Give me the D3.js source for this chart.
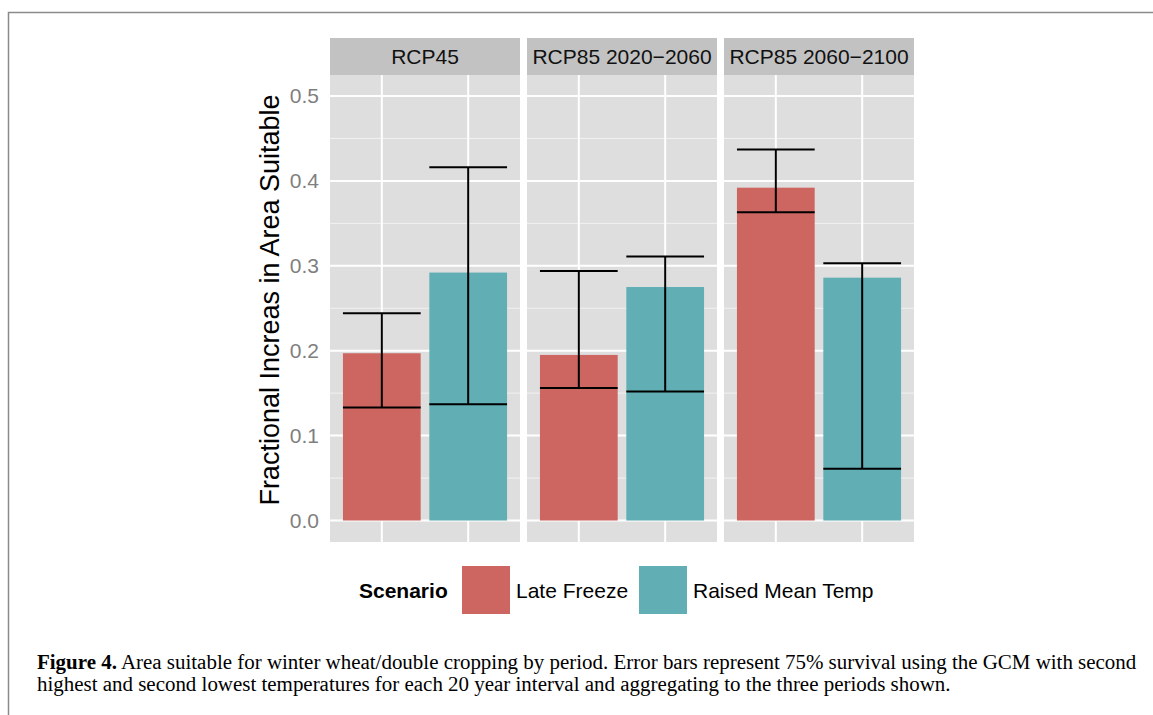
<!DOCTYPE html>
<html>
<head>
<meta charset="utf-8">
<script src="https://cdnjs.cloudflare.com/ajax/libs/d3/7.8.5/d3.min.js"></script>
<style>
  body { margin: 0; background: #fff; }
  svg text { font-family: "Liberation Sans", Arial, sans-serif; }
</style>
</head>
<body>
<svg id="chart" width="1153" height="715"></svg>
<script>
const PANELS    = ["RCP45", "RCP85 2020\u22122060", "RCP85 2060\u22122100"];
const SCENARIOS = ["Late Freeze", "Raised Mean Temp"];
const COLORS    = ["#CD6660", "#61AEB5"];

// per panel, per scenario
const VALUES = [[0.197, 0.292], [0.195, 0.275], [0.392, 0.286]];
const LOWER  = [[0.133, 0.137], [0.156, 0.152], [0.363, 0.061]];
const UPPER  = [[0.244, 0.416], [0.294, 0.311], [0.437, 0.303]];

const Y_TICKS = [0, 0.1, 0.2, 0.3, 0.4, 0.5];
const Y_MINOR = [0.05, 0.15, 0.25, 0.35, 0.45];

const svg = d3.select("#chart");

// figure frame
svg.append("path")
  .attr("d", "M8.5,715 V12.5 H1153")
  .attr("fill", "none").attr("stroke", "#8a8a8a").attr("stroke-width", 1.5);

const plotTop = 75, plotBot = 542, stripTop = 38;

const fx = d3.scaleBand().domain(PANELS).range([330, 914]).paddingInner(7 / 197);
const x  = d3.scalePoint().domain(SCENARIOS).range([0, fx.bandwidth()]).padding(0.6);
const y  = d3.scaleLinear().domain([-0.0253, 0.5247]).range([plotBot, plotTop]);
const color = d3.scaleOrdinal().domain(SCENARIOS).range(COLORS);
const barW = x.step() * 0.9;

const data = [];
PANELS.forEach((p, i) => SCENARIOS.forEach((s, j) => data.push({
  panel: p, scen: s, v: VALUES[i][j], lo: LOWER[i][j], hi: UPPER[i][j]
})));

PANELS.forEach(p => {
  const g = svg.append("g").attr("transform", `translate(${fx(p)},0)`);
  const w = fx.bandwidth();

  // strip
  g.append("rect").attr("x", 0).attr("y", stripTop).attr("width", w)
    .attr("height", plotTop - stripTop).attr("fill", "#C2C2C2");
  g.append("text").attr("x", w / 2).attr("y", (stripTop + plotTop) / 2 + 7.5)
    .attr("text-anchor", "middle").attr("font-size", 21).attr("fill", "#111")
    .text(p);

  // panel background
  g.append("rect").attr("x", 0).attr("y", plotTop).attr("width", w)
    .attr("height", plotBot - plotTop).attr("fill", "#DEDEDE");

  g.selectAll("line.minor").data(Y_MINOR).enter().append("line")
    .attr("x1", 0).attr("x2", w).attr("y1", d => y(d)).attr("y2", d => y(d))
    .attr("stroke", "#F2F2F2").attr("stroke-width", 1);
  g.selectAll("line.major").data(Y_TICKS).enter().append("line")
    .attr("x1", 0).attr("x2", w).attr("y1", d => y(d)).attr("y2", d => y(d))
    .attr("stroke", "#fff").attr("stroke-width", 2);
  g.selectAll("line.vx").data(SCENARIOS).enter().append("line")
    .attr("x1", d => x(d)).attr("x2", d => x(d)).attr("y1", plotTop).attr("y2", plotBot)
    .attr("stroke", "#fff").attr("stroke-width", 2);

  const pd = data.filter(d => d.panel === p);
  g.selectAll("rect.bar").data(pd).enter().append("rect")
    .attr("x", d => x(d.scen) - barW / 2).attr("width", barW)
    .attr("y", d => y(d.v)).attr("height", d => y(0) - y(d.v))
    .attr("fill", d => color(d.scen));

  // error bars
  const eb = g.selectAll("g.eb").data(pd).enter().append("g")
    .attr("stroke", "#000").attr("stroke-width", 2);
  eb.append("line").attr("x1", d => x(d.scen)).attr("x2", d => x(d.scen))
    .attr("y1", d => y(d.lo)).attr("y2", d => y(d.hi));
  eb.append("line").attr("x1", d => x(d.scen) - barW / 2).attr("x2", d => x(d.scen) + barW / 2)
    .attr("y1", d => y(d.lo)).attr("y2", d => y(d.lo));
  eb.append("line").attr("x1", d => x(d.scen) - barW / 2).attr("x2", d => x(d.scen) + barW / 2)
    .attr("y1", d => y(d.hi)).attr("y2", d => y(d.hi));
});

// y axis
const yAxis = svg.append("g").attr("transform", "translate(330,0)")
  .call(d3.axisLeft(y).tickValues(Y_TICKS).tickFormat(d3.format(".1f")).tickSize(0).tickPadding(11));
yAxis.select(".domain").remove();
yAxis.selectAll("text").attr("font-size", 21).attr("fill", "#7F7F7F")
  .attr("font-family", "Liberation Sans, Arial, sans-serif");

svg.append("text")
  .attr("transform", "translate(279,300) rotate(-90)")
  .attr("text-anchor", "middle").attr("font-size", 27).attr("fill", "#000")
  .text("Fractional Increas in Area Suitable");

// legend
const leg = svg.append("g");
leg.append("text").attr("x", 359).attr("y", 598).attr("font-size", 21)
  .attr("font-weight", "bold").text("Scenario");
const keyX = [462, 639];
SCENARIOS.forEach((s, i) => {
  leg.append("rect").attr("x", keyX[i]).attr("y", 566).attr("width", 48).attr("height", 48)
    .attr("fill", color(s));
  leg.append("text").attr("x", keyX[i] + 54).attr("y", 598).attr("font-size", 21).text(s);
});

// caption: condensed serif, scaled so the first line spans the text block
const cap = svg.append("g");
const l1 = cap.append("text").attr("x", 0).attr("y", 669).attr("font-size", 20)
  .style("font-family", "Liberation Serif, serif");
l1.append("tspan").attr("font-weight", "bold").text("Figure 4.");
l1.append("tspan").text(" Area suitable for winter wheat/double cropping by period. Error bars represent 75% survival using the GCM with second");
cap.append("text").attr("x", 0).attr("y", 691).attr("font-size", 20)
  .style("font-family", "Liberation Serif, serif")
  .text("highest and second lowest temperatures for each 20 year interval and aggregating to the three periods shown.");
const sx = 1100 / l1.node().getComputedTextLength();
cap.attr("transform", `translate(37,0) scale(${sx},1)`);
</script>
</body>
</html>
